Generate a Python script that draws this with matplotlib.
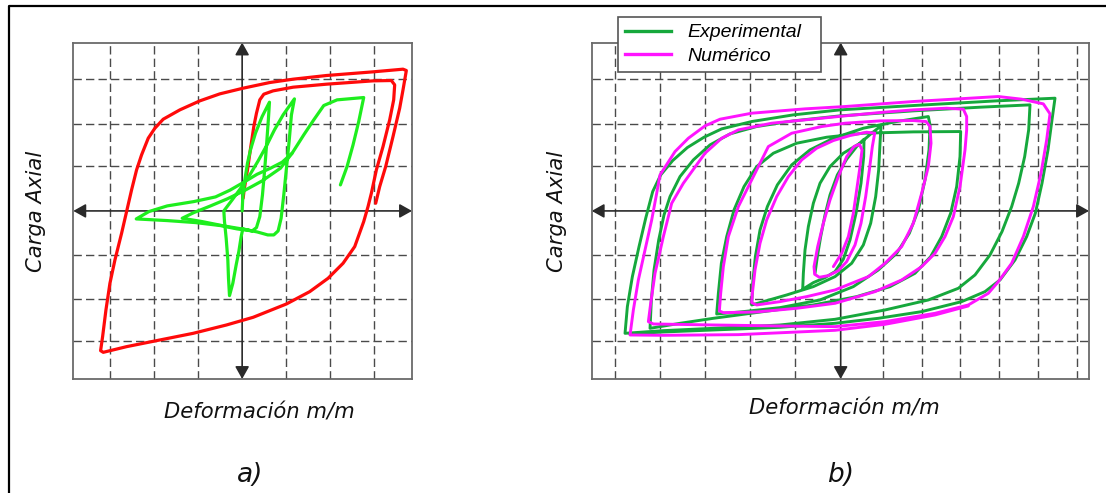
import matplotlib
matplotlib.use("Agg")
import matplotlib.pyplot as plt
from matplotlib.lines import Line2D
from matplotlib.font_manager import FontProperties

# ---------------- data (arbitrary units, one grid square ~ 132 units) ----------------
# Panel a) : red curve
red_x = [401, 413, 431, 453, 473, 483, 493, 483, 393, 253, 153, 83, 3, -67, -127, -187, -237, -262, -282,
         -302, -317, -332, -347, -362, -382, -397, -409, -419, -425, -417, -347, -247, -147, -47, 33, 133,
         203, 258, 303, 338, 365, 378, 388, 403, 423, 443, 455, 458, 448, 393, 253, 153, 93, 65, 53, 43,
         35, 26, 16, 6, 3]
red_y = [23, 73, 133, 223, 308, 363, 421, 425, 417, 406, 395, 385, 368, 351, 330, 303, 275, 248, 218,
         168, 123, 63, -2, -67, -147, -217, -297, -377, -419, -424, -407, -387, -367, -342, -319, -279,
         -242, -202, -157, -107, -32, 13, 53, 123, 193, 273, 333, 378, 391, 390, 380, 371, 360, 350, 333,
         293, 253, 193, 123, 63, 38]

# Panel a) : green curve (two strokes)
ga1_x = [0, 2, 8, 16, 25, 40, 60, 82, 79, 74, 68, 61, 53, 43, 30, 2, -3, -10, -18, -28, -38, -41, -43,
         -48, -53, -55, -30, -3, 23, 48, 73, 97, 123, 157, 148, 141, 133, 125, 117, 108, 95, 77, 45, 5,
         -55, -120, -180, -145, -95, -45, 5, 60, 115, 150, 185, 215, 245, 285, 365, 350, 333, 315, 295]
ga1_y = [0, 43, 93, 143, 183, 233, 283, 326, 278, 208, 128, 48, -17, -50, -60, -54, -77, -122, -162,
         -217, -254, -202, -147, -82, -32, 0, 33, 70, 108, 150, 195, 243, 288, 336, 288, 208, 128, 48,
         -22, -60, -72, -72, -63, -55, -45, -32, -22, -5, 15, 36, 60, 90, 128, 173, 228, 273, 316, 333,
         340, 268, 198, 133, 78]
ga2_x = [30, -15, -65, -140, -225, -318, -280, -225, -145, -80, -37, 5, 45, 85, 120, 150]
ga2_y = [-60, -54, -44, -35, -29, -24, -2, 15, 28, 42, 62, 86, 110, 128, 146, 173]

# Panel b) : Experimental
exp_x = [-77, -70, -60, -47, -32, -10, 18, 48, 70,
         69, 61, 46, 28, 8, -17, -47, -82, -114,
         -112, -107, -97, -82, -62, -32, 8, 58, 93, 121,
         118, 114, 105, 90, 68, 33, -17, -82, -162, -267,
         -264, -256, -242, -220, -190, -147, -92, -22, 68, 168, 263,
         268, 265, 253, 233, 206, 168, 113, 38, -62, -182, -302, -372,
         -367, -358, -342, -320, -290, -252, -202, -132, -42, 68, 218, 360,
         358, 348, 330, 303, 270, 223, 148, 48, -82, -232, -382, -482, -572,
         -568, -560, -546, -530, -512, -482, -442, -392, -332, -252, -142, -2, 218, 418, 568,
         564, 552, 534, 513, 484, 448, 403, 353, 263, 133, -17, -182, -382, -532, -647,
         -640, -625, -605, -585, -564, -540, -504, -460, -410, -357, -267, -142, -2, 218, 468, 643,
         634, 622, 604, 584, 558, 523, 478, 433, 363, 243, 113, -17, -182, -382, -532, -632]
exp_y = [-187, -137, -77, -12, 48, 108, 155, 193, 215,
         163, 83, -7, -87, -145, -182, -200, -215, -235,
         -187, -117, -47, 23, 83, 133, 173, 203, 233, 255,
         203, 123, 43, -37, -102, -157, -197, -227, -252, -282,
         -217, -137, -57, 13, 78, 138, 183, 218, 248, 268, 283,
         258, 183, 93, 3, -67, -127, -177, -227, -267, -290, -303, -309,
         -247, -157, -77, 3, 73, 133, 173, 203, 221, 233, 237, 238,
         163, 73, -7, -77, -137, -187, -227, -257, -282, -302, -322, -337, -352,
         -267, -177, -87, -12, 43, 103, 153, 198, 231, 253, 270, 285, 300, 311, 318,
         243, 163, 83, 13, -62, -132, -192, -232, -267, -297, -325, -342, -352, -359, -367,
         -287, -197, -107, -22, 58, 108, 151, 190, 221, 246, 268, 288, 303, 316, 330, 338,
         273, 183, 83, -7, -77, -147, -207, -242, -272, -302, -322, -337, -349, -357, -363, -369]

# Panel b) : Numerico
num_x = [-22, 3, 23, 38, 48, 58, 64, 56,
         40, 18, -7, -32, -52, -69, -80, -78,
         -64, -37, -7, 18, 43, 61, 75, 86, 95, 102,
         78, 28, -22, -72, -117, -157, -192, -222, -242, -257, -265, -267,
         -252, -182, -102, -17, 83, 133, 183, 218, 243, 263, 271, 268, 256,
         218, 118, 13, -57, -147, -217, -267, -307, -337, -352, -360, -364,
         -352, -252, -132, -17, 103, 183, 243, 283, 313, 338, 358, 373, 378, 378, 368,
         318, 218, 118, 13, -107, -207, -307, -357, -407, -472, -507, -532, -557, -570, -577,
         -562, -382, -182, -17, 133, 283, 383, 443, 473, 513, 548, 578, 601, 618, 628, 608, 543, 473,
         218, 13, -107, -267, -362, -407, -457, -497, -542, -552, -567, -587, -607, -622, -632,
         -532, -307, -17, 133, 283, 383]
num_y = [-167, -127, -77, -7, 63, 133, 183, 200,
         193, 163, 103, 33, -37, -107, -167, -190,
         -199, -194, -179, -152, -102, -37, 43, 123, 193, 233,
         236, 226, 211, 188, 153, 103, 43, -27, -97, -177, -247, -275,
         -282, -272, -257, -237, -197, -157, -107, -37, 53, 133, 203, 253, 268,
         271, 270, 263, 253, 233, 193, 93, 13, -77, -167, -247, -300,
         -305, -303, -292, -277, -242, -207, -167, -127, -77, -17, 73, 183, 243, 283, 305,
         308, 303, 295, 285, 273, 263, 243, 218, 173, 83, 23, -77, -187, -277, -332,
         -339, -342, -345, -347, -332, -307, -282, -247, -212, -157, -77, 13, 113, 213, 291, 321, 335, 343,
         328, 313, 306, 293, 275, 255, 218, 178, 108, 53, -27, -117, -207, -297, -372,
         -373, -371, -358, -340, -312, -285]

legend_labels = ["Experimental", "Numérico"]
x_label = "Deformación m/m"
y_label = "Carga Axial"
panel_tags = ["a)", "b)"]

# grid positions / limits (same arbitrary units)
grid_a_x = [-397, -265, -134, 133, 263, 395]
grid_b_x = [-677, -542, -407, -272, -137, 128, 245, 358, 476, 593, 710]
grid_y = [396, 260, 135, -132, -265, -389]
lim_a_x = (-507, 510)
lim_b_x = (-747, 745)
lim_y = (-504, 505)

# ---------------- figure ----------------
W, H = 1106, 493
fig = plt.figure(figsize=(W / 100, H / 100), dpi=100)
fig.patch.set_facecolor("white")

# outer frame (top and left edges visible)
fig.add_artist(Line2D([9 / W, 9 / W, 1.0], [0.0, 1 - 6 / H, 1 - 6 / H],
                      transform=fig.transFigure, color="black", lw=1.6))

box_bottom = (H - 379) / H
box_height = (379 - 42.5) / H
ax_a = fig.add_axes([73.3 / W, box_bottom, (412 - 73.3) / W, box_height])
ax_b = fig.add_axes([591.7 / W, box_bottom, (1089 - 591.7) / W, box_height])

RED = "#ff0a0a"
LIME = "#1eee1e"
GREEN = "#16a83c"
MAG = "#ff14ff"
GRIDC = "#4a4a4a"


def style_axes(ax, gx, xlim):
    ax.set_xlim(*xlim)
    ax.set_ylim(*lim_y)
    ax.set_xticks([])
    ax.set_yticks([])
    for s in ax.spines.values():
        s.set_color("#6a6a6a")
        s.set_linewidth(1.3)
    for v in gx:
        ax.axvline(v, color=GRIDC, lw=1.0, dashes=(6, 3), zorder=1)
    for v in grid_y:
        ax.axhline(v, color=GRIDC, lw=1.0, dashes=(6, 3), zorder=1)
    arrow = dict(arrowstyle="<|-|>,head_length=0.75,head_width=0.42", color="#2a2a2a",
                 lw=1.2, shrinkA=0, shrinkB=0, mutation_scale=10)
    ax.annotate("", xy=(xlim[1], 0), xytext=(xlim[0], 0), arrowprops=arrow, zorder=2,
                annotation_clip=False)
    ax.annotate("", xy=(0, lim_y[1]), xytext=(0, lim_y[0]), arrowprops=arrow, zorder=2,
                annotation_clip=False)


style_axes(ax_a, grid_a_x, lim_a_x)
style_axes(ax_b, grid_b_x, lim_b_x)

lw_kw = dict(solid_joinstyle="round", solid_capstyle="round", zorder=3)
ax_a.plot(red_x, red_y, color=RED, lw=2.3, **lw_kw)
ax_a.plot(ga1_x, ga1_y, color=LIME, lw=2.3, **lw_kw)
ax_a.plot(ga2_x, ga2_y, color=LIME, lw=2.3, **lw_kw)

ax_b.plot(exp_x, exp_y, color=GREEN, lw=2.1, **lw_kw)
ax_b.plot(num_x, num_y, color=MAG, lw=2.1, **lw_kw)

# legend (expanded to the reference box width)
handles = [Line2D([], [], color=GREEN, lw=2.4), Line2D([], [], color=MAG, lw=2.4)]
leg = fig.legend(handles, legend_labels, loc="upper left", mode="expand",
                 bbox_to_anchor=(618 / W, 1 - 72 / H, 203 / W, 55 / H),
                 bbox_transform=fig.transFigure,
                 frameon=True, fancybox=False, framealpha=1, edgecolor="#555555",
                 prop=FontProperties(family="Liberation Sans", style="italic", size=14),
                 handlelength=2.4, handletextpad=0.8, borderpad=0.35, labelspacing=0.32,
                 borderaxespad=0)
leg.get_frame().set_linewidth(1.2)

# texts
lab_font = dict(family="DejaVu Sans", style="italic", size=15.2, color="#111111")
fig.text(36 / W, 1 - 211 / H, y_label, rotation=90, ha="center", va="center", **lab_font)
fig.text(557 / W, 1 - 211 / H, y_label, rotation=90, ha="center", va="center", **lab_font)
fig.text(259 / W, 1 - 418 / H, x_label, ha="center", va="baseline", **lab_font)
fig.text(844 / W, 1 - 414 / H, x_label, ha="center", va="baseline", **lab_font)
tag_font = dict(family="DejaVu Sans", style="italic", size=19, color="#111111")
fig.text(250 / W, 1 - 482 / H, panel_tags[0], ha="center", va="baseline", **tag_font)
fig.text(841 / W, 1 - 482 / H, panel_tags[1], ha="center", va="baseline", **tag_font)

fig.savefig("out.png", dpi=100, facecolor="white")
